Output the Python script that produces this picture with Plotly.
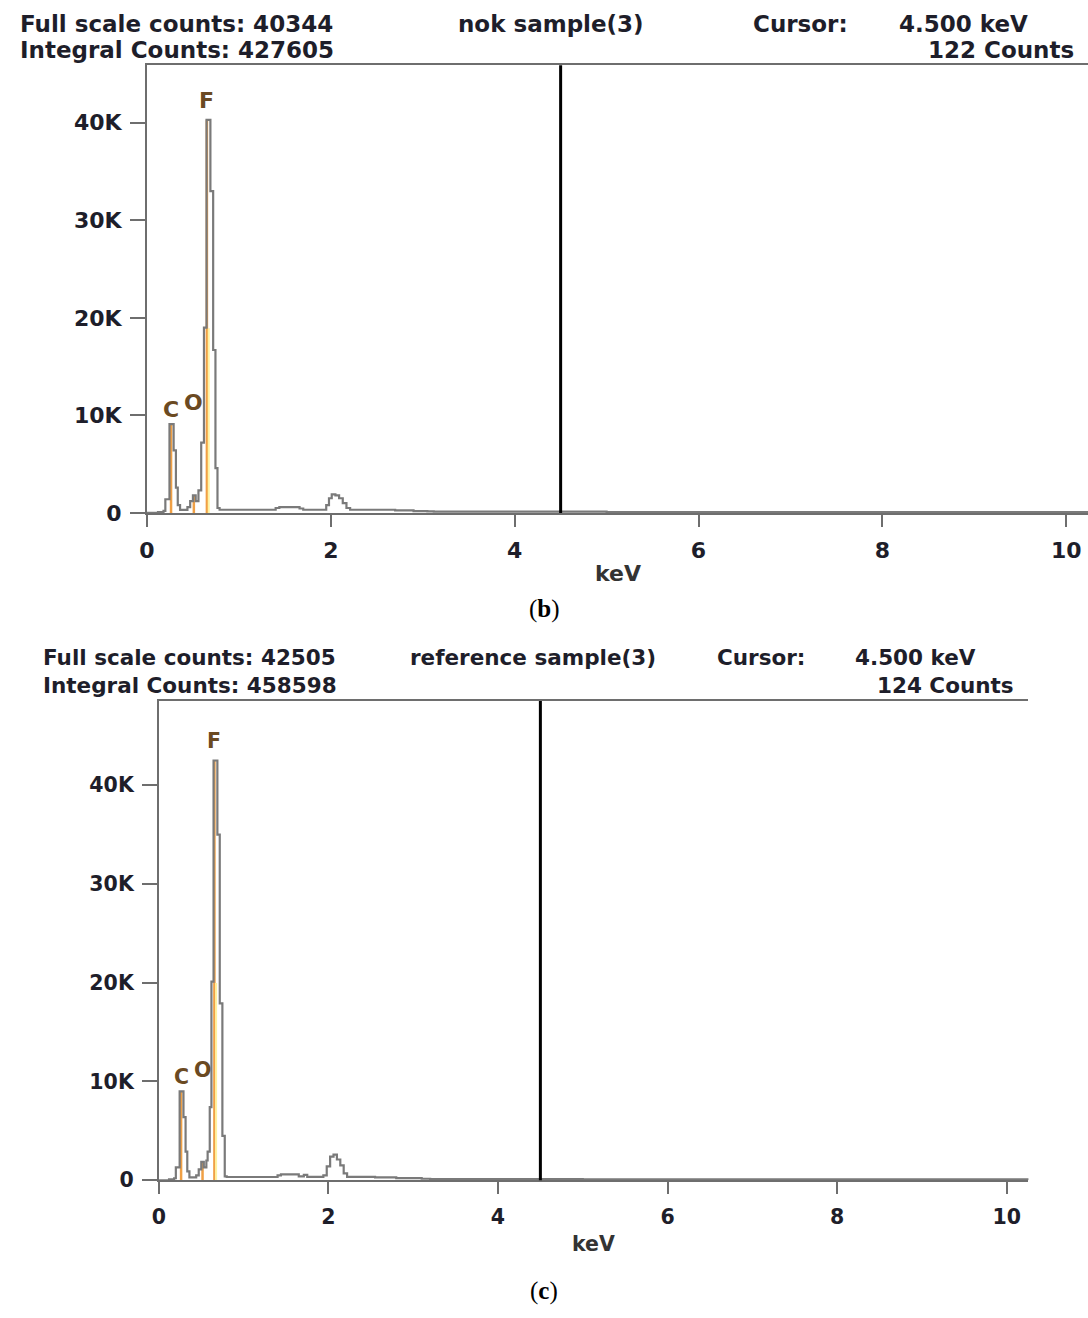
import plotly.graph_objects as go

W, H = 1088, 1318

# ---------------- data ----------------
# panel (b): nok sample(3) -- channel start energies (keV) and counts (step spectrum)
energy_b = [0.00, 0.12, 0.18, 0.20, 0.245, 0.29, 0.315, 0.335, 0.36, 0.44, 0.47, 0.50,
            0.53, 0.56, 0.59, 0.62, 0.648, 0.69, 0.72, 0.745, 0.767, 0.79, 1.40, 1.44,
            1.66, 1.70, 1.95, 1.98, 2.01, 2.05, 2.09, 2.13, 2.17, 2.21, 2.70, 2.90,
            3.05, 3.12, 3.20, 5.00, 10.30]
counts_b = [0, 80, 200, 1400, 9100, 6400, 2600, 800, 300, 600, 1200, 1800,
            1200, 2300, 7200, 19000, 40300, 33000, 16700, 4600, 500, 320, 500, 600,
            450, 320, 800, 1500, 1900, 1800, 1500, 1000, 500, 320, 260, 180,
            150, 130, 120, 90, 90]

# panel (c): reference sample(3)
energy_c = [0.00, 0.12, 0.18, 0.20, 0.245, 0.29, 0.315, 0.335, 0.36, 0.44, 0.47, 0.50,
            0.53, 0.56, 0.575, 0.60, 0.62, 0.645, 0.69, 0.718, 0.749, 0.777, 0.80, 1.40,
            1.44, 1.65, 1.71, 1.75, 1.94, 1.98, 2.02, 2.06, 2.10, 2.14, 2.18, 2.22,
            2.55, 2.80, 3.10, 3.20, 5.00, 10.30]
counts_c = [0, 80, 200, 1300, 9000, 6400, 2900, 900, 300, 500, 1100, 1850,
            1300, 2000, 2900, 7400, 20100, 42500, 35000, 17900, 4500, 400, 330, 500,
            600, 400, 550, 350, 500, 1400, 2400, 2600, 2100, 1500, 700, 350,
            300, 220, 150, 120, 90, 90]

elements = ["C", "O", "F"]
elem_energy_b = [0.262, 0.510, 0.652]
elem_height_b = [9100, 1800, 40300]
elem_energy_c = [0.262, 0.515, 0.655]
elem_height_c = [9000, 1850, 42500]

y_tickvals = [0, 10000, 20000, 30000, 40000]
y_ticktext = ["0", "10K", "20K", "30K", "40K"]
x_tickvals = [0, 2, 4, 6, 8, 10]

cursor_kev = 4.5

header_b = {"full": "Full scale counts: 40344", "integral": "Integral Counts: 427605",
            "name": "nok sample(3)", "cursor": "4.500 keV", "cursor_counts": "122 Counts"}
header_c = {"full": "Full scale counts: 42505", "integral": "Integral Counts: 458598",
            "name": "reference sample(3)", "cursor": "4.500 keV", "cursor_counts": "124 Counts"}

# ---------------- layout geometry (pixels) ----------------
panels = {
    "b": dict(left=140, right=1088, top=66, bottom=518, xmax=10.237, ymax=45888,
              font=22, head=23, xa="x", ya="y"),
    "c": dict(left=152, right=1028, top=708, bottom=1192, xmax=10.257, ymax=48521,
              font=20.5, head=21.5, xa="x2", ya="y2"),
}

AX = "#6e6e6e"
TXT = "#1e1e2a"
SPEC = "#7a7a7a"
ORANGE = "#f0a045"
LYEL = "#fff2a0"
LABEL = "#6b4a22"

fig = go.Figure()


def px2paper(px, py):
    return px / W, 1 - py / H


def add_panel(key, energy, counts, e_en, e_h):
    p = panels[key]
    xa, ya = p["xa"], p["ya"]
    # element (ROI) marker lines
    xs, ys = [], []
    for e, h in zip(e_en, e_h):
        xs += [e, e, None]
        ys += [0, h, None]
    fig.add_trace(go.Scatter(x=xs, y=ys, mode="lines", xaxis=xa, yaxis=ya,
                             line=dict(color=ORANGE, width=2.5), hoverinfo="skip",
                             showlegend=False))
    # pale highlight right of F peak
    fe, fh = e_en[2], e_h[2]
    fig.add_trace(go.Scatter(x=[fe + 0.02, fe + 0.02], y=[0, fh * 0.47], mode="lines",
                             xaxis=xa, yaxis=ya, line=dict(color=LYEL, width=2),
                             hoverinfo="skip", showlegend=False))
    # spectrum
    fig.add_trace(go.Scatter(x=energy, y=counts, mode="lines", xaxis=xa, yaxis=ya,
                             line=dict(color=SPEC, width=2.2, shape="hv"),
                             showlegend=False))
    # element labels
    for name, e, h in zip(elements, e_en, e_h):
        if name == "O":
            yv, ys_ = e_h[0], 7
        elif name == "C":
            yv, ys_ = h, 0
        else:
            yv, ys_ = h, 5
        fig.add_annotation(x=e, y=yv, xref=xa, yref=ya, text=f"<b>{name}</b>",
                           showarrow=False, xanchor="center", yanchor="bottom",
                           yshift=ys_, font=dict(family="DejaVu Sans", size=p["font"],
                                                 color=LABEL))
    # cursor line
    fig.add_shape(type="line", xref=xa, yref=f"{ya} domain", x0=cursor_kev, x1=cursor_kev,
                  y0=0, y1=1, line=dict(color="#000000", width=3))


add_panel("b", energy_b, counts_b, elem_energy_b, elem_height_b)
add_panel("c", energy_c, counts_c, elem_energy_c, elem_height_c)


def axis_dicts(key):
    p = panels[key]
    xd = dict(domain=[p["left"] / W, p["right"] / W], range=[0, p["xmax"]],
              tickvals=x_tickvals, ticks="outside", ticklen=12, tickwidth=2, tickcolor=AX,
              showline=True, linecolor=AX, linewidth=2, mirror=True, showgrid=False,
              zeroline=False, ticklabelstandoff=5,
              tickfont=dict(family="DejaVu Sans", size=p["font"], color=TXT, weight="bold"))
    yd = dict(domain=[1 - p["bottom"] / H, 1 - p["top"] / H], range=[0, p["ymax"]],
              tickvals=y_tickvals, ticktext=y_ticktext, ticks="outside", ticklen=15,
              tickwidth=2, tickcolor=AX, showline=True, linecolor=AX, linewidth=2,
              mirror=False, showgrid=False, zeroline=False, ticklabelstandoff=4,
              tickfont=dict(family="DejaVu Sans", size=p["font"], color=TXT, weight="bold"))
    return xd, yd


xb, yb = axis_dicts("b")
xc, yc = axis_dicts("c")
xb["anchor"] = "y"
yb["anchor"] = "x"
xc["anchor"] = "y2"
yc["anchor"] = "x2"

fig.update_layout(width=W, height=H, margin=dict(l=0, r=0, t=0, b=0),
                  paper_bgcolor="white", plot_bgcolor="white",
                  xaxis=xb, yaxis=yb, xaxis2=xc, yaxis2=yc)


def text(px, py, s, size, anchor="left", family="DejaVu Sans", bold=True, color=TXT):
    x, y = px2paper(px, py)
    fig.add_annotation(x=x, y=y, xref="paper", yref="paper", text=s, showarrow=False,
                       xanchor=anchor, yanchor="middle",
                       font=dict(family=family, size=size, color=color,
                                 weight="bold" if bold else "normal"))


# headers panel (b)
hb = panels["b"]["head"]
text(10, 24, header_b["full"], hb)
text(10, 50, header_b["integral"], hb)
text(451, 24, header_b["name"], hb)
text(748, 24, "Cursor:", hb)
text(896, 24, header_b["cursor"], hb)
text(1076, 50, header_b["cursor_counts"], hb, anchor="right")
text(615, 579, "keV", panels["b"]["font"], anchor="center", color="#333333")
text(540, 615, "(<b>b</b>)", 25, anchor="center", family="Liberation Serif", bold=False,
     color="#000000")

# headers panel (c)
hc = panels["c"]["head"]
text(33, 664, header_c["full"], hc)
text(33, 692, header_c["integral"], hc)
text(403, 664, header_c["name"], hc)
text(712, 664, "Cursor:", hc)
text(851, 664, header_c["cursor"], hc)
text(1015, 692, header_c["cursor_counts"], hc, anchor="right")
text(590, 1256, "keV", panels["c"]["font"], anchor="center", color="#333333")
text(540, 1304, "(<b>c</b>)", 25, anchor="center", family="Liberation Serif", bold=False,
     color="#000000")

fig.write_html("out.html", config={"displayModeBar": False},
               post_script="document.body.style.margin='0';document.body.style.overflow='hidden';")
